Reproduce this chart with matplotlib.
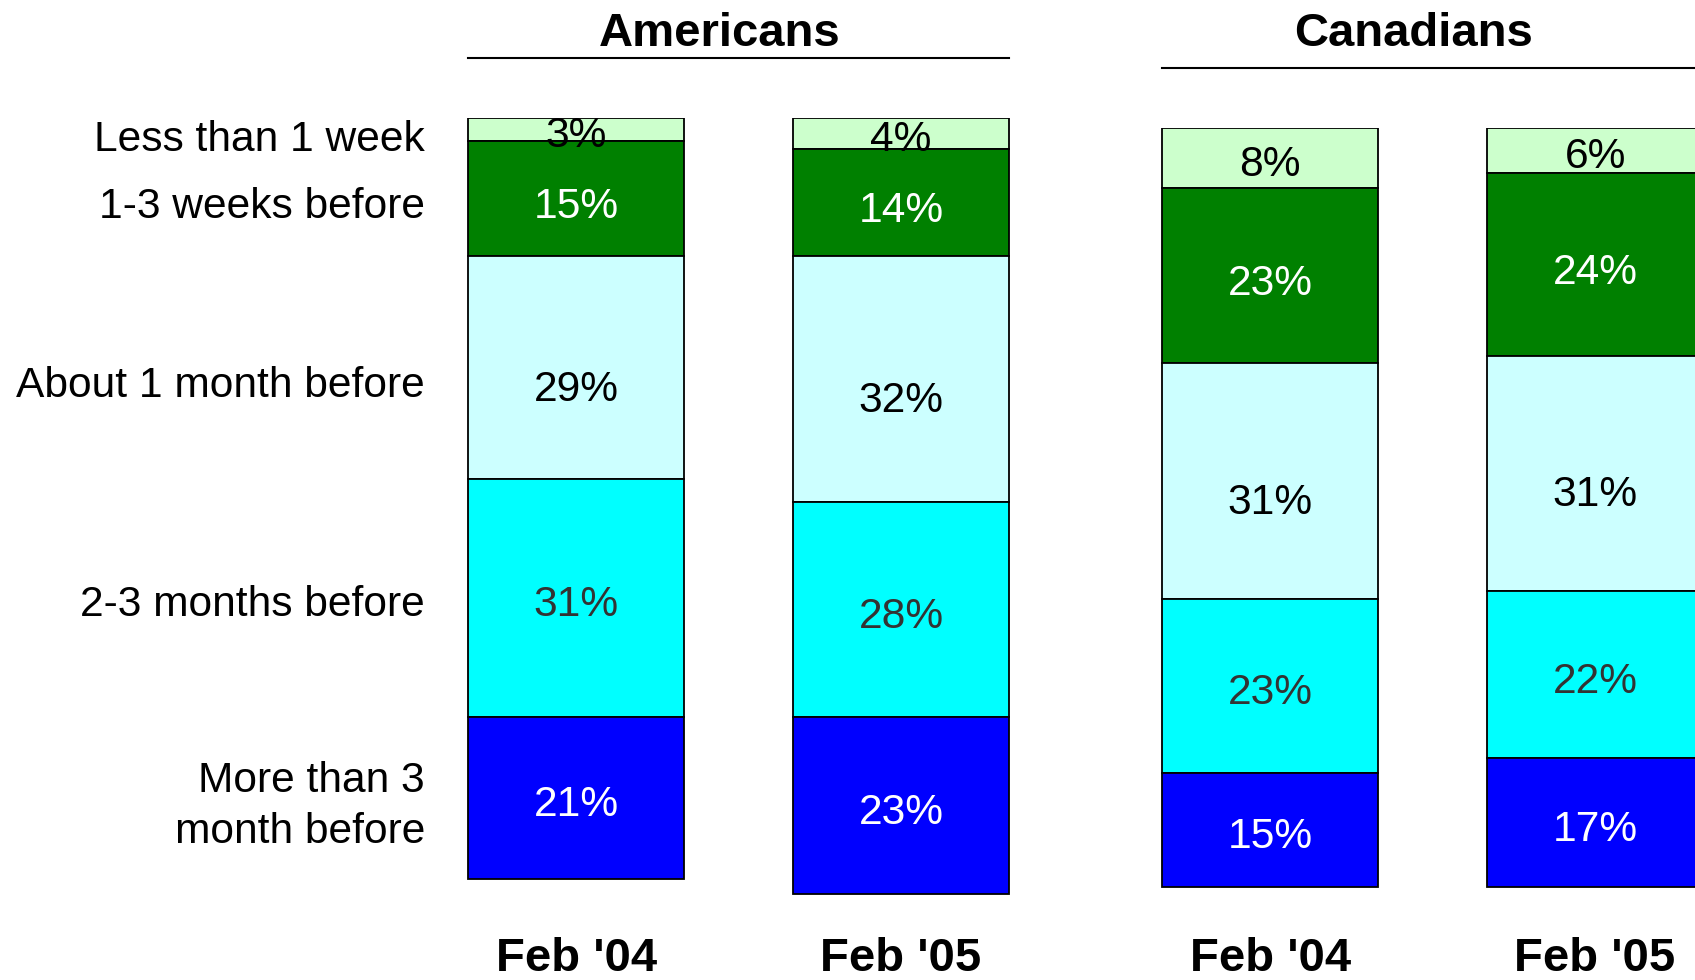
import numpy as np
import matplotlib
matplotlib.use("Agg")
import matplotlib.pyplot as plt
from matplotlib import transforms

plt.rcParams["font.family"] = ["Liberation Sans", "DejaVu Sans"]

# Data (percent of respondents, top segment first)
categories = [
    "Less than 1 week",
    "1-3 weeks before",
    "About 1 month before",
    "2-3 months before",
    "More than 3\nmonth before",
]
periods = ["Feb '04", "Feb '05"]
groups = ["Americans", "Canadians"]

americans_feb04 = [3, 15, 29, 31, 21]
americans_feb05 = [4, 14, 32, 28, 23]
canadians_feb04 = [8, 23, 31, 23, 15]
canadians_feb05 = [6, 24, 31, 22, 17]

# Styling
seg_colors = ["#CCFFCC", "#008000", "#CCFFFF", "#00FFFF", "#0000FF"]
text_colors = ["black", "white", "black", "#333333", "white"]
label_drop = [5, 6, 16, 5, 5]  # points, values sit a bit below the segment centre
side_drop = [8, 6, 13, 5, 6]   # points, same for the category names on the left
BAR_W = 0.665
VALUE_SIZE = 30.6
BOLD_SIZE = 34


def draw_group(ax, title, bars, with_labels):
    x = np.arange(len(periods))
    data = np.array(bars, dtype=float)
    bottoms = np.zeros(len(periods))

    for i, cat in enumerate(categories):
        vals = data[:, i]
        ax.bar(x, vals, bottom=bottoms, width=BAR_W, color=seg_colors[i],
               edgecolor="black", linewidth=1.3)
        centers = bottoms + vals / 2
        for xi, c, v in zip(x, centers, vals):
            ax.annotate(f"{v:.0f}%", (xi, c), xytext=(0, -label_drop[i]),
                        textcoords="offset points", ha="center", va="center",
                        fontsize=VALUE_SIZE, color=text_colors[i])
        if with_labels:
            ax.annotate(cat, (x[0] - BAR_W / 2, centers[0]),
                        xytext=(-31, -side_drop[i]), textcoords="offset points",
                        ha="right", va="center", fontsize=VALUE_SIZE,
                        color="black", multialignment="right", linespacing=1.35)
        bottoms += vals

    ax.set_xlim(-0.5, 1.5)
    ax.set_ylim(112.2, 0)
    ax.axis("off")

    # rule under the group title
    ax.plot([x[0] - BAR_W / 2, x[-1] + BAR_W / 2], [-7.8, -7.8],
            color="black", lw=1.5, clip_on=False)

    trans = transforms.blended_transform_factory(ax.transData, fig.transFigure)
    ax.annotate(title, (x.mean(), 0.9653), xycoords=trans, xytext=(-13.5, 0),
                textcoords="offset points", ha="center", va="center",
                fontsize=BOLD_SIZE, fontweight="bold")
    for xi, p in zip(x, periods):
        ax.annotate(p, (xi, 0.021), xycoords=trans, ha="center", va="center",
                    fontsize=BOLD_SIZE, fontweight="bold")


fig = plt.figure(figsize=(16.95, 9.8), dpi=100)
ax_us = fig.add_axes([0.2441, 0.0, 0.3833, 0.8798])
ax_ca = fig.add_axes([0.6536, 0.0, 0.3833, 0.8698])

draw_group(ax_us, groups[0], [americans_feb04, americans_feb05], True)
draw_group(ax_ca, groups[1], [canadians_feb04, canadians_feb05], False)

fig.savefig("out.png", dpi=100)
